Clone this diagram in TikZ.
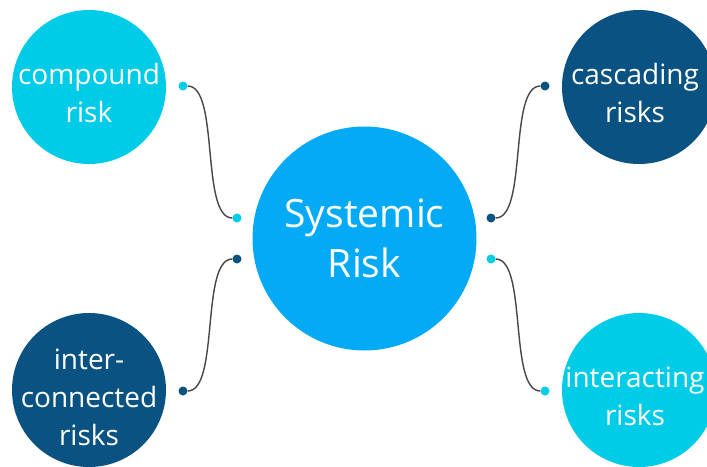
\documentclass[tikz,border=0pt]{standalone}
\usepackage{fontspec}
\setmainfont{Open Sans}
\definecolor{cyanl}{RGB}{0,204,232}
\definecolor{bluec}{RGB}{4,170,245}
\definecolor{darkb}{RGB}{9,82,130}
\definecolor{linec}{RGB}{70,70,70}
\begin{document}
\begin{tikzpicture}[x=1pt,y=-1pt,
  bubble/.style={circle,minimum size=154pt,inner sep=0pt},
  btext/.style={text=white,align=center,inner sep=0pt,
    font=\fontsize{28}{38}\selectfont},
  dotn/.style={circle,minimum size=9pt,inner sep=0pt},
  link/.style={draw=linec,line width=1.4pt}]
\useasboundingbox (0,0) rectangle (707,466);
\clip (0,0) rectangle (707,466);
\fill[white] (0,0) rectangle (707,466);
\node[bubble,fill=cyanl] (comp) at (89,87) {};
\node[btext] (compt) at ([yshift=-6pt]comp.center) {compound\\risk};
\node[bubble,fill=darkb] (casc) at (639,87) {};
\node[btext] (casct) at ([xshift=-4pt,yshift=-6pt]casc.center) {cascading\\risks};
\node[bubble,fill=darkb] (inter) at (89,390) {};
\node[btext] (intert) at ([yshift=-7pt]inter.center) {inter-\\connected\\risks};
\node[bubble,fill=cyanl] (intr) at (639,390) {};
\node[btext] (intrt) at ([xshift=-4pt,yshift=-6pt]intr.center) {interacting\\risks};
\node[circle,minimum size=224pt,inner sep=0pt,fill=bluec] (sys) at (364.5,238.5) {};
\node[btext,font=\fontsize{39}{50}\selectfont] (syst) at ([yshift=0pt]sys.center) {Systemic\\Risk};
% dots
\node[dotn,fill=cyanl] (c1) at (183,86) {};
\node[dotn,fill=cyanl] (c2) at (237,218) {};
\node[dotn,fill=darkb] (i1) at (237,259) {};
\node[dotn,fill=darkb] (i2) at (183,391) {};
\node[dotn,fill=darkb] (k1) at (545,86) {};
\node[dotn,fill=darkb] (k2) at (491,218) {};
\node[dotn,fill=cyanl] (t1) at (491,259) {};
\node[dotn,fill=cyanl] (t2) at (545,391) {};
\draw[link] (c1.east) .. controls +(32,0) and +(-32,0) .. (c2.west);
\draw[link] (i1.west) .. controls +(-32,0) and +(32,0) .. (i2.east);
\draw[link] (k1.west) .. controls +(-32,0) and +(32,0) .. (k2.east);
\draw[link] (t1.east) .. controls +(32,0) and +(-32,0) .. (t2.west);
\end{tikzpicture}
\end{document}
